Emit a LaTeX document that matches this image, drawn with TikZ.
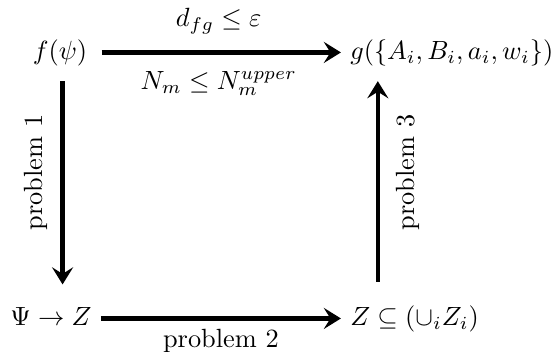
\documentclass[tikz,border=0pt]{standalone}
\usetikzlibrary{arrows.meta}
\begin{document}
\begin{tikzpicture}[
  obj/.style={text height=1.9ex,text depth=0.6ex},
  bigarrow/.style={line width=1.6pt,-{Stealth[length=6.5pt,width=8pt,inset=2.5pt]}},
]
\useasboundingbox (0,0) rectangle (7.42,4.69);
\node[obj] (f) at (0.80,3.99) {$f(\psi)$};
\node[obj,anchor=west] (g) at (4.55,3.99) {$g(\{A_i,B_i,a_i,w_i\})$};
\node[obj] (psi) at (0.68,0.44) {$\Psi\to Z$};
\node[obj,anchor=west] (z) at (4.55,0.44) {$Z\subseteq(\cup_i Z_i)$};
\coordinate (zup) at ([xshift=14pt]z.north west);
\draw[bigarrow,shorten <=2pt] (f.east) -- (g.west)
  node[midway,above=3pt] (dfg) {$d_{fg}\le\varepsilon$}
  node[midway,below=3pt] (nm) {$N_m\le N_m^{upper}$};
\draw[bigarrow,shorten <=2pt,shorten >=4pt] ([xshift=1pt]f.south) -- ([xshift=1pt]f.south |- psi.north)
  node[pos=0.44,rotate=90,anchor=south,yshift=1.5pt] (p1) {problem 1};
\draw[bigarrow] (psi.east) -- (z.west)
  node[midway,below] (p2) {problem 2};
\draw[bigarrow,shorten <=5pt,shorten >=2pt] (zup) -- (zup |- g.south)
  node[pos=0.56,rotate=90,anchor=north,yshift=-3pt] (p3) {problem 3};
\end{tikzpicture}
\end{document}
